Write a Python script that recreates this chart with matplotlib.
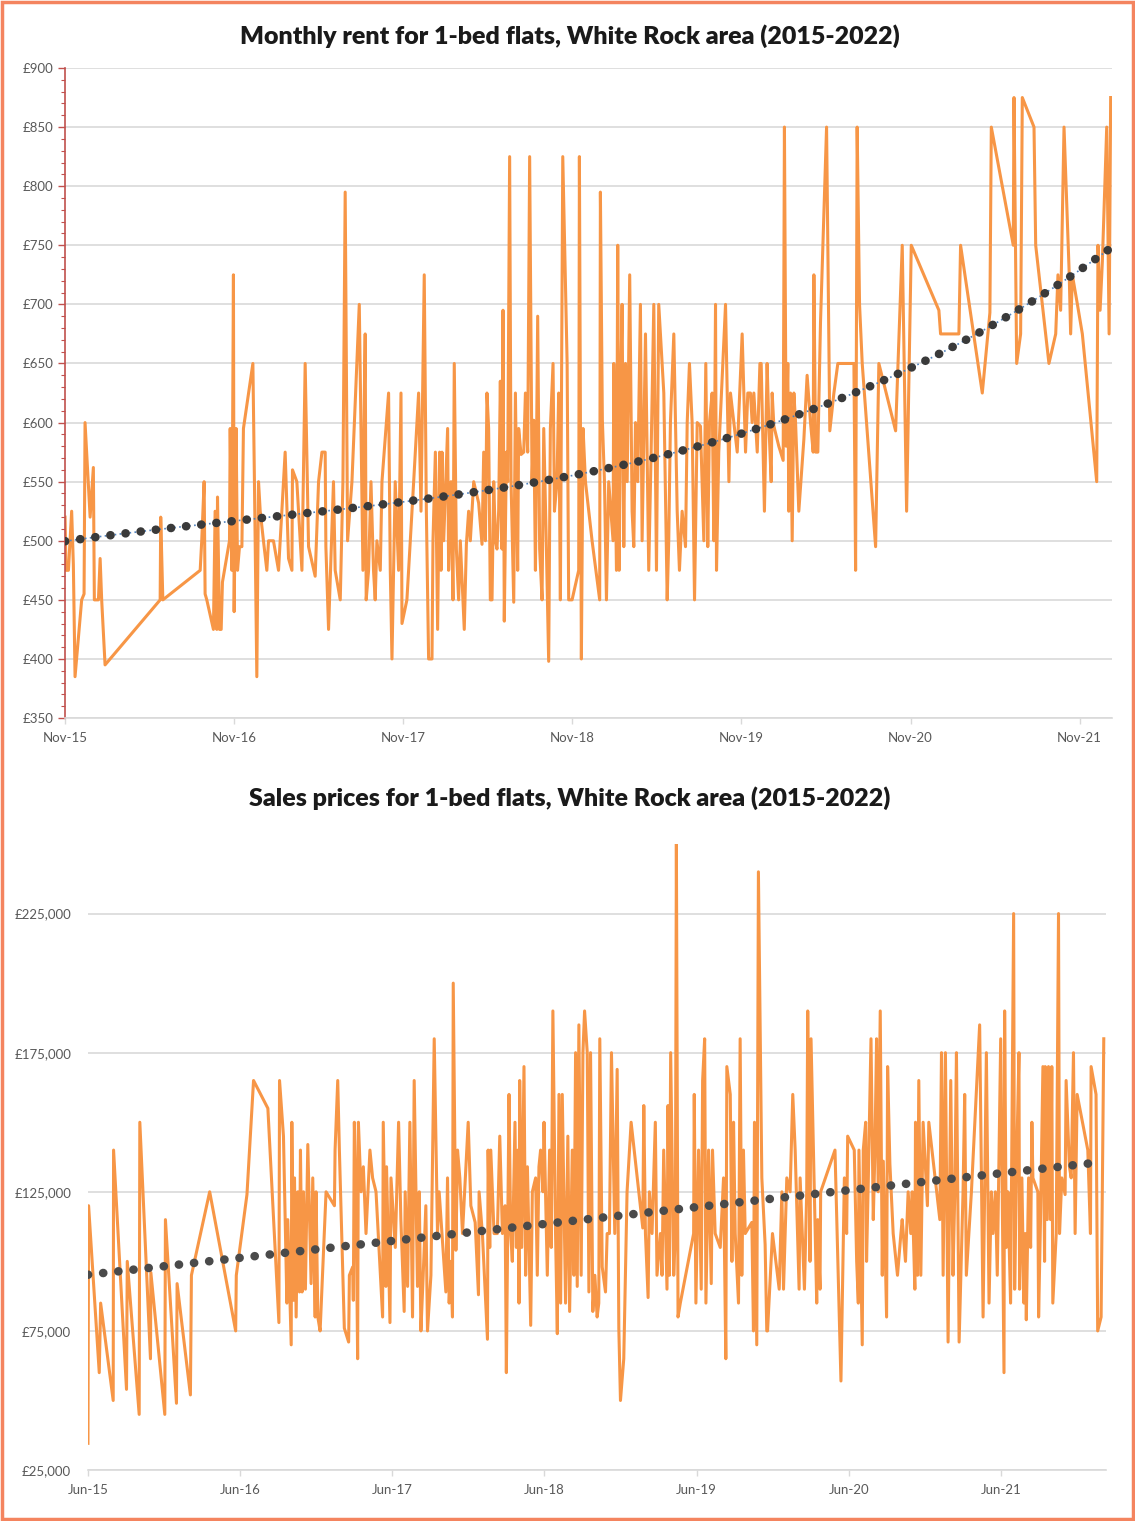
import matplotlib

matplotlib.use("Agg")
import matplotlib.pyplot as plt  # noqa: E402
import numpy as np  # noqa: E402
from matplotlib.patches import Rectangle  # noqa: E402
from matplotlib.ticker import FixedLocator, MultipleLocator, FuncFormatter  # noqa: E402

plt.rcParams["font.family"] = ["Lato", "DejaVu Sans"]

# ---- monthly rent, months counted from Nov-15 ----
rent_months = [
    0.0, 0.07, 0.24, 0.47, 0.59, 0.71, 1.18, 1.35, 1.42, 1.78, 2.01, 2.08, 2.25, 2.37, 2.49, 2.60, 2.84,
    6.75, 6.79, 6.94, 9.59, 9.70, 9.87, 9.94, 10.06, 10.53, 10.65, 10.77, 10.82, 10.96, 11.08, 11.17,
    11.67, 11.72, 11.84, 11.95, 12.00, 12.14, 12.24, 12.38, 12.55, 12.66, 13.33, 13.44, 13.61, 13.73,
    13.85, 14.08, 14.32, 14.44, 14.79, 15.15, 15.62, 15.86, 16.10, 16.14, 16.45, 16.81, 17.04, 17.28,
    17.75, 17.99, 18.23, 18.46, 18.51, 18.70, 19.05, 19.17, 19.53, 19.72, 19.88, 20.05, 20.36, 20.88,
    21.14, 21.24, 21.30, 21.37, 21.54, 21.71, 21.89, 22.01, 22.13, 22.37, 22.49, 22.96, 23.08, 23.20,
    23.43, 23.67, 23.84, 23.91, 24.26, 24.74, 25.09, 25.26, 25.49, 25.64, 25.80, 26.04, 26.11, 26.28,
    26.44, 26.58, 26.68, 26.75, 26.87, 27.15, 27.22, 27.39, 27.53, 27.62, 27.77, 27.93, 28.05, 28.33,
    28.48, 28.64, 28.76, 29.00, 29.35, 29.59, 29.71, 29.83, 29.94, 30.06, 30.18, 30.30, 30.42, 30.54,
    30.65, 30.77, 30.89, 31.01, 31.08, 31.17, 31.32, 31.41, 31.55, 31.65, 31.84, 31.96, 32.12, 32.19,
    32.36, 32.55, 32.67, 32.83, 32.97, 33.14, 33.26, 33.38, 33.54, 33.68, 33.85, 33.97, 34.16, 34.32,
    34.44, 34.63, 34.73, 34.91, 35.03, 35.15, 35.32, 35.63, 35.74, 35.98, 36.45, 36.50, 36.64, 36.76,
    36.93, 37.40, 37.94, 37.99, 38.13, 38.28, 38.42, 38.58, 38.89, 38.94, 39.13, 39.22, 39.32, 39.46,
    39.53, 39.65, 39.77, 39.89, 40.07, 40.24, 40.36, 40.48, 40.64, 40.83, 40.95, 41.19, 41.42, 41.59,
    41.78, 41.97, 42.13, 42.49, 42.73, 42.84, 42.96, 43.20, 43.44, 43.60, 43.79, 44.03, 44.15, 44.31,
    44.50, 44.67, 44.86, 45.09, 45.33, 45.47, 45.61, 45.73, 45.92, 46.04, 46.16, 46.23, 46.39, 46.87,
    47.11, 47.22, 47.46, 47.70, 48.05, 48.29, 48.45, 48.64, 48.76, 48.88, 49.12, 49.31, 49.40, 49.63,
    49.82, 49.94, 50.11, 50.18, 50.30, 50.65, 50.96, 51.05, 51.17, 51.29, 51.36, 51.48, 51.60, 51.72,
    51.84, 52.07, 52.43, 52.66, 52.90, 53.09, 53.14, 53.26, 53.42, 53.61, 54.04, 54.27, 54.56, 54.84,
    55.98, 56.10, 56.21, 56.38, 56.57, 57.52, 57.75, 58.94, 59.41, 59.72, 60.05, 62.01, 62.13, 63.43,
    63.55, 65.09, 65.63, 65.73, 67.29, 67.34, 67.53, 67.81, 67.93, 68.76, 68.88, 69.82, 70.30, 70.46,
    70.65, 70.89, 71.25, 71.36, 71.48, 71.84, 72.19, 73.21, 73.30, 73.45, 73.61, 73.92, 74.09, 74.20,
]
rent_values = [
    520, 475, 475, 525, 480, 385, 450, 455, 600, 520, 562, 450, 450, 450, 485, 450, 395,
    450, 520, 450, 475, 500, 550, 455, 450, 425, 525, 425, 537, 425, 425, 465,
    500, 595, 475, 725, 440, 595, 475, 495, 495, 595, 650, 550, 385, 550,
    525, 500, 475, 500, 500, 475, 575, 485, 475, 560, 550, 475, 650, 495,
    470, 550, 575, 575, 495, 425, 550, 475, 450, 550, 795, 500, 550, 700,
    475, 625, 675, 450, 475, 550, 475, 450, 500, 475, 550, 625, 475, 400,
    550, 475, 625, 430, 450, 550, 625, 525, 725, 525, 400, 400, 500, 575,
    425, 575, 475, 575, 500, 595, 475, 550, 450, 650, 493, 450, 500, 425,
    497, 525, 500, 550, 532, 497, 575, 500, 625, 595, 450, 450, 550, 500,
    493, 525, 635, 493, 695, 432, 575, 550, 825, 550, 448, 625, 475, 595,
    573, 575, 625, 575, 825, 550, 602, 475, 690, 493, 450, 595, 493, 398,
    595, 650, 525, 550, 625, 450, 825, 650, 450, 450, 475, 825, 400, 595,
    550, 500, 450, 795, 602, 550, 450, 550, 500, 650, 475, 750, 475, 650,
    700, 495, 650, 550, 725, 525, 495, 600, 550, 700, 500, 675, 475, 575,
    700, 475, 700, 625, 450, 500, 600, 675, 525, 475, 525, 495, 600, 650,
    600, 450, 600, 597, 500, 650, 495, 600, 625, 500, 700, 475, 575, 700,
    550, 625, 600, 575, 675, 575, 625, 625, 600, 625, 575, 650, 650, 525,
    650, 600, 550, 625, 597, 580, 568, 850, 580, 650, 525, 625, 500, 625,
    600, 525, 586, 640, 600, 575, 725, 575, 575, 685, 850, 593, 625, 650,
    650, 475, 850, 700, 650, 495, 650, 593, 750, 525, 750, 695, 675, 675,
    750, 625, 693, 850, 750, 875, 650, 675, 875, 850, 750, 650, 675, 725,
    695, 850, 729, 675, 725, 700, 675, 550, 750, 695, 736, 850, 675, 875,
]
rent_ticks = [0, 12, 24, 36, 48, 60, 72]
rent_tick_labels = ["Nov-15", "Nov-16", "Nov-17", "Nov-18", "Nov-19", "Nov-20", "Nov-21"]
rent_trend_months = [0, 12, 24, 36, 48, 60, 72, 74.2]
rent_trend_values = [500, 516, 533, 555, 592, 646, 724, 752]

# ---- sales prices, months counted from Jun-15 ----
sale_months = [
    0.00, 0.05, 0.89, 1.00, 1.99, 2.02, 3.04, 3.10, 4.04, 4.09, 4.93, 4.96, 6.06, 6.11, 6.98, 7.03,
    8.08, 8.16, 9.60, 11.65, 11.70, 12.54, 13.06, 14.19, 15.06, 15.11, 15.42, 15.69, 15.76, 16.03,
    16.08, 16.21, 16.29, 16.42, 16.55, 16.68, 16.76, 16.89, 17.00, 17.15, 17.34, 17.60, 17.73, 17.92,
    17.99, 18.13, 18.31, 18.78, 19.44, 19.49, 19.70, 19.83, 20.22, 20.56, 20.62, 20.88, 20.93, 21.01,
    21.14, 21.27, 21.33, 21.54, 21.72, 21.93, 22.24, 22.45, 22.72, 23.24, 23.29, 23.50, 23.55, 23.82,
    23.90, 24.24, 24.50, 24.68, 24.94, 25.02, 25.21, 25.39, 25.60, 25.73, 25.99, 26.13, 26.26, 26.44,
    26.65, 26.78, 27.05, 27.31, 27.57, 27.70, 28.23, 28.36, 28.49, 28.62, 28.75, 28.81, 29.02, 29.15,
    29.33, 29.54, 29.99, 30.20, 30.54, 30.80, 30.85, 31.11, 31.51, 31.56, 31.69, 31.77, 32.03, 32.29,
    32.48, 32.69, 32.90, 33.00, 33.21, 33.34, 33.47, 33.68, 33.79, 33.92, 34.00, 34.05, 34.21, 34.39,
    34.52, 34.66, 34.92, 35.05, 35.31, 35.44, 35.57, 35.70, 35.89, 35.97, 36.23, 36.41, 36.54, 36.67,
    36.88, 37.02, 37.15, 37.28, 37.41, 37.67, 37.85, 37.99, 38.20, 38.33, 38.46, 38.59, 38.72, 38.90,
    39.04, 39.17, 39.38, 39.51, 39.64, 39.82, 39.98, 40.16, 40.29, 40.37, 40.56, 40.82, 40.95, 41.13,
    41.29, 41.55, 41.74, 41.87, 42.00, 42.26, 42.52, 42.84, 43.76, 43.84, 43.97, 44.18, 44.28, 44.49,
    44.75, 44.88, 45.15, 45.28, 45.41, 45.67, 45.75, 45.86, 45.96, 46.20, 46.33, 46.41, 46.54, 46.72,
    47.77, 47.82, 47.95, 48.16, 48.37, 48.48, 48.64, 48.74, 48.95, 49.16, 49.26, 49.47, 49.87, 50.13,
    50.31, 50.39, 50.66, 50.79, 50.92, 51.05, 51.31, 51.44, 51.57, 51.70, 51.84, 52.36, 52.49, 52.57,
    52.75, 52.88, 53.15, 53.41, 53.54, 53.60, 53.99, 54.52, 54.73, 54.86, 55.12, 55.38, 55.59, 55.78,
    56.09, 56.17, 56.51, 56.69, 56.77, 56.95, 57.03, 57.22, 57.48, 57.56, 57.74, 57.79, 58.92, 59.39,
    59.66, 59.84, 59.92, 60.44, 60.63, 60.76, 60.81, 61.07, 61.15, 61.34, 61.41, 61.55, 61.76, 61.94,
    62.07, 62.20, 62.33, 62.49, 62.65, 62.73, 62.99, 63.07, 63.25, 63.51, 63.85, 64.12, 64.22, 64.48,
    64.69, 64.90, 65.01, 65.22, 65.27, 65.43, 65.53, 65.69, 65.87, 66.21, 66.32, 67.19, 67.32, 67.45,
    67.63, 67.84, 68.05, 68.23, 68.37, 68.50, 68.71, 69.02, 69.15, 69.28, 69.68, 70.33, 70.60, 70.86,
    71.07, 71.25, 71.38, 71.57, 71.72, 71.99, 72.17, 72.25, 72.30, 72.43, 72.56, 72.77, 73.01, 73.09,
    73.22, 73.43, 73.48, 73.66, 73.82, 73.93, 74.01, 74.19, 74.35, 74.45, 74.53, 74.92, 74.98, 75.13,
    75.32, 75.45, 75.50, 75.66, 75.76, 75.92, 76.02, 76.10, 76.37, 76.55, 76.63, 76.81, 77.07, 77.15,
    77.41, 77.55, 77.73, 77.86, 78.02, 78.86, 79.07, 79.12, 79.51, 79.64, 79.91, 80.12,
]
sale_values = [
    34600, 120000, 60000, 85000, 50000, 140000, 54000, 100000, 45000, 150000, 65000, 96000, 45000, 115000, 49000, 92000,
    52000, 95000, 125000, 75000, 95000, 124000, 165000, 155000, 78000, 165000, 145000, 85000, 115000, 70000,
    150000, 86000, 130000, 80000, 125000, 89000, 140000, 89000, 125000, 90000, 142000, 92000, 130000, 80000,
    125000, 80000, 75000, 125000, 120000, 140000, 165000, 140000, 76000, 71000, 95000, 98000, 86000, 150000,
    125000, 65000, 150000, 125000, 134000, 110000, 140000, 130000, 125000, 80000, 150000, 91000, 134000, 78000,
    130000, 105000, 150000, 115000, 82000, 125000, 91000, 150000, 80000, 165000, 91000, 125000, 75000, 95000,
    120000, 75000, 95000, 180000, 110000, 125000, 89000, 130000, 85000, 100000, 80000, 200000, 104000, 140000,
    130000, 110000, 150000, 120000, 114000, 88000, 125000, 110000, 72000, 140000, 105000, 140000, 110000, 110000,
    145000, 110000, 120000, 60000, 160000, 110000, 100000, 150000, 105000, 140000, 85000, 165000, 105000, 170000,
    95000, 134000, 77000, 125000, 130000, 95000, 134000, 140000, 125000, 150000, 95000, 140000, 105000, 190000,
    110000, 74000, 160000, 85000, 160000, 85000, 145000, 82000, 140000, 95000, 175000, 91000, 185000, 95000,
    175000, 190000, 175000, 89000, 175000, 82000, 95000, 80000, 85000, 180000, 98000, 89000, 110000, 110000,
    175000, 110000, 169000, 76000, 50000, 65000, 125000, 150000, 112000, 156000, 110000, 87000, 125000, 110000,
    150000, 95000, 110000, 95000, 140000, 90000, 156000, 95000, 175000, 95000, 110000, 250000, 80000, 85000,
    110000, 160000, 85000, 140000, 90000, 165000, 180000, 85000, 140000, 92000, 140000, 110000, 105000, 130000,
    65000, 170000, 160000, 100000, 150000, 110000, 85000, 180000, 95000, 140000, 110000, 114000, 75000, 150000,
    70000, 240000, 130000, 106000, 75000, 75000, 110000, 90000, 125000, 90000, 130000, 125000, 160000, 140000,
    90000, 130000, 90000, 125000, 190000, 100000, 180000, 140000, 85000, 115000, 90000, 125000, 140000, 57000,
    130000, 110000, 145000, 140000, 100000, 85000, 140000, 70000, 140000, 150000, 100000, 130000, 180000, 115000,
    140000, 180000, 125000, 190000, 95000, 136000, 80000, 170000, 135000, 110000, 95000, 110000, 115000, 100000,
    125000, 110000, 125000, 90000, 150000, 95000, 165000, 95000, 150000, 120000, 150000, 115000, 175000, 95000,
    175000, 71000, 165000, 95000, 125000, 175000, 71000, 125000, 160000, 95000, 125000, 185000, 80000, 175000,
    85000, 125000, 110000, 125000, 95000, 180000, 95000, 60000, 190000, 105000, 125000, 85000, 225000, 90000,
    130000, 175000, 90000, 130000, 85000, 110000, 79000, 130000, 105000, 150000, 130000, 125000, 80000, 115000,
    170000, 100000, 170000, 115000, 170000, 115000, 170000, 85000, 110000, 225000, 110000, 130000, 124000, 165000,
    134000, 130000, 175000, 110000, 160000, 140000, 110000, 170000, 160000, 75000, 80000, 180000,
]
sale_ticks = [0, 12, 24, 36, 48, 60, 72]
sale_tick_labels = ["Jun-15", "Jun-16", "Jun-17", "Jun-18", "Jun-19", "Jun-20", "Jun-21"]
sale_trend_months = [0, 12, 36, 60, 79.4]
sale_trend_values = [95000, 101500, 113500, 125500, 135400]

ORANGE = "#F79646"
GRID = "#D9D9D9"
TXT = "#595959"

fig = plt.figure(figsize=(11.35, 15.21), dpi=100)
fig.patches.append(Rectangle((0.0015, 0.0012), 0.997, 0.9976, transform=fig.transFigure,
                             fill=False, edgecolor="#F4845F", linewidth=2.5))


def style_axis(ax):
    ax.grid(axis="y", color=GRID, linewidth=1.2)
    ax.set_axisbelow(True)
    for side in ("top", "right"):
        ax.spines[side].set_visible(False)
    ax.spines["bottom"].set_color(GRID)
    ax.spines["bottom"].set_linewidth(1.2)
    ax.tick_params(axis="x", colors=GRID, labelcolor=TXT, labelsize=9.5, length=4, width=1)
    ax.tick_params(axis="y", labelcolor=TXT, labelsize=9.5)


def dotted_trend(ax, months, values, deg, color, blue_line):
    coef = np.polyfit(months, values, deg)
    xs = np.linspace(months[0], months[-1], 400)
    ys = np.polyval(coef, xs)
    if blue_line:
        ax.plot(xs, ys, color="#4F81BD", linewidth=1.2, linestyle=(0, (1, 2)), zorder=3)
    ax.plot(xs, ys, color=color, linewidth=6.2, linestyle=(0, (0.02, 1.75)),
            dash_capstyle="round", zorder=4)


# ---- top: rent ----
ax1 = fig.add_axes([0.0573, 0.5279, 0.9225, 0.4274])
style_axis(ax1)
ax1.plot(rent_months, rent_values, color=ORANGE, linewidth=2.2, zorder=2)
dotted_trend(ax1, rent_trend_months, rent_trend_values, 3, "#3A3A3A", True)
ax1.set_xlim(0, 74.3)
ax1.set_ylim(350, 900)
ax1.xaxis.set_major_locator(FixedLocator(rent_ticks))
ax1.set_xticklabels(rent_tick_labels)
ax1.yaxis.set_major_locator(MultipleLocator(50))
ax1.yaxis.set_minor_locator(MultipleLocator(10))
ax1.yaxis.set_major_formatter(FuncFormatter(lambda v, p: f"£{v:.0f}"))
ax1.spines["left"].set_color("#C0504D")
ax1.spines["left"].set_linewidth(1.2)
ax1.tick_params(axis="y", which="major", colors="#C0504D", labelcolor=TXT, length=5, width=1)
ax1.tick_params(axis="y", which="minor", colors="#C0504D", length=3, width=0.8)
ax1.tick_params(axis="x", pad=6)
fig.text(0.502, 0.976, "Monthly rent for 1-bed flats, White Rock area (2015-2022)",
         ha="center", va="center", fontsize=18, fontweight="heavy", color="#1A1A1A")

# ---- bottom: sales ----
ax2 = fig.add_axes([0.0775, 0.0335, 0.897, 0.4116])
style_axis(ax2)
ax2.plot(sale_months, sale_values, color=ORANGE, linewidth=2.2, zorder=2)
dotted_trend(ax2, sale_trend_months, sale_trend_values, 1, "#4A4A4A", False)
ax2.set_xlim(0, 80.3)
ax2.set_ylim(25000, 250000)
ax2.xaxis.set_major_locator(FixedLocator(sale_ticks))
ax2.set_xticklabels(sale_tick_labels)
ax2.yaxis.set_major_locator(FixedLocator([25000, 75000, 125000, 175000, 225000]))
ax2.yaxis.set_major_formatter(FuncFormatter(lambda v, p: f"£{v:,.0f}"))
ax2.spines["left"].set_visible(False)
ax2.tick_params(axis="y", length=0, pad=12)
ax2.tick_params(axis="x", pad=6)
fig.text(0.502, 0.4754, "Sales prices for 1-bed flats, White Rock area (2015-2022)",
         ha="center", va="center", fontsize=18, fontweight="heavy", color="#1A1A1A")

fig.savefig("out.png", dpi=100)
plt.close(fig)
